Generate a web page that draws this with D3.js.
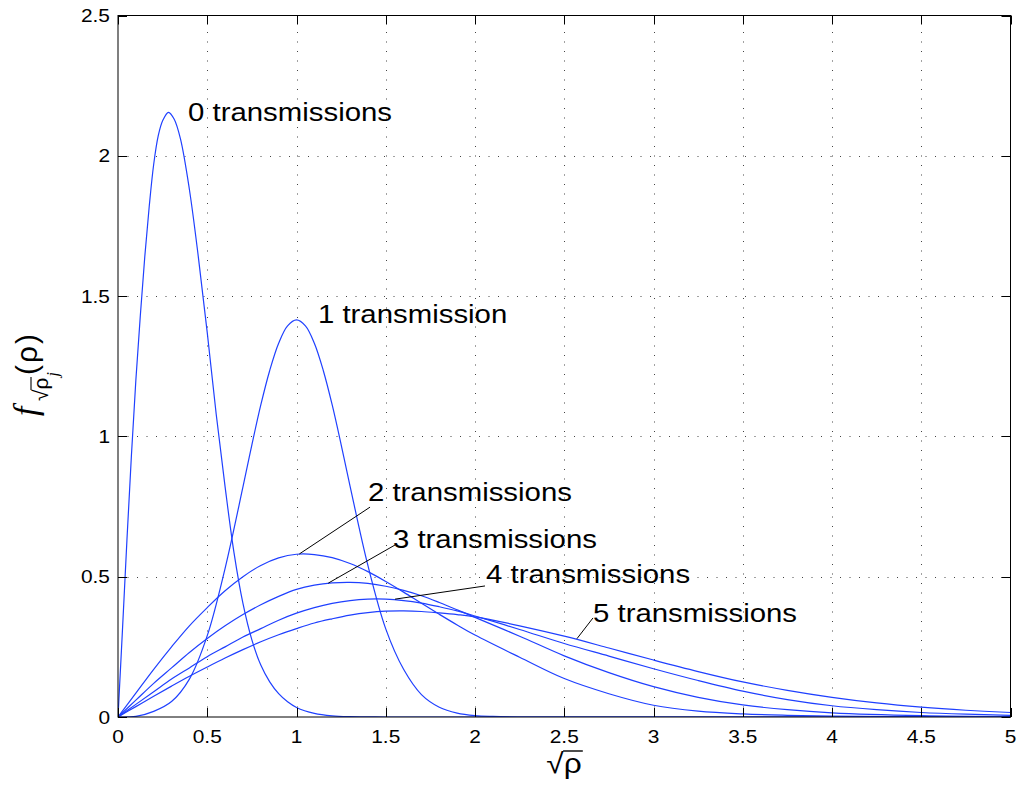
<!DOCTYPE html>
<html>
<head>
<meta charset="utf-8">
<script src="https://cdn.jsdelivr.net/npm/d3@7"></script>
<style>
  body { margin: 0; background: #fff; }
  svg { display: block; }
</style>
</head>
<body>
<svg id="chart" width="1019" height="789"></svg>
<script>
// ---- axis ticks ----
const xTicks = [0, 0.5, 1, 1.5, 2, 2.5, 3, 3.5, 4, 4.5, 5];
const xTickLabels = ["0", "0.5", "1", "1.5", "2", "2.5", "3", "3.5", "4", "4.5", "5"];
const yTicks = [0, 0.5, 1, 1.5, 2, 2.5];
const yTickLabels = ["0", "0.5", "1", "1.5", "2", "2.5"];

// ---- density of sqrt(rho) after j transmissions, [sqrt(rho), f] ----
const pdf0 = [[0,0],[0.025,0.31],[0.05,0.63],[0.075,0.93],[0.1,1.2],[0.125,1.43],[0.15,1.64],[0.175,1.82],[0.2,1.97],[0.225,2.07],[0.25,2.125],[0.283,2.155],[0.315,2.13],[0.35,2.06],[0.4,1.88],[0.45,1.64],[0.5,1.37],[0.55,1.08],[0.6,0.82],[0.65,0.585],[0.7,0.405],[0.75,0.275],[0.8,0.185],[0.85,0.125],[0.9,0.083],[0.95,0.054],[1.0,0.034],[1.1,0.013],[1.2,0.004],[1.3,0.001],[1.5,0],[2.5,0],[5,0]];
const pdf1 = [[0,0],[0.1,0.002],[0.2,0.02],[0.3,0.055],[0.4,0.135],[0.5,0.29],[0.6,0.53],[0.7,0.82],[0.75,0.97],[0.8,1.112],[0.85,1.235],[0.9,1.332],[0.95,1.394],[1.0,1.415],[1.05,1.394],[1.1,1.332],[1.15,1.235],[1.2,1.112],[1.25,0.971],[1.3,0.823],[1.4,0.54],[1.5,0.314],[1.6,0.17],[1.7,0.08],[1.8,0.035],[1.9,0.014],[2.0,0.005],[2.1,0.002],[2.3,0],[3.5,0],[5,0]];
const pdf2 = [[0,0],[0.1,0.085],[0.2,0.17],[0.3,0.25],[0.4,0.325],[0.5,0.39],[0.6,0.45],[0.7,0.50],[0.8,0.54],[0.9,0.567],[1.0,0.58],[1.1,0.579],[1.2,0.568],[1.3,0.547],[1.4,0.518],[1.5,0.483],[1.6,0.445],[1.7,0.405],[1.8,0.366],[1.9,0.328],[2.0,0.292],[2.25,0.213],[2.5,0.137],[2.75,0.083],[3.0,0.042],[3.25,0.021],[3.5,0.011],[3.75,0.006],[4.0,0.003],[4.5,0.001],[5,0]];
const pdf3 = [[0,0],[0.1,0.06],[0.2,0.12],[0.3,0.175],[0.4,0.23],[0.5,0.28],[0.6,0.325],[0.7,0.365],[0.8,0.40],[0.9,0.43],[1.0,0.455],[1.1,0.47],[1.2,0.478],[1.3,0.48],[1.4,0.476],[1.5,0.466],[1.6,0.451],[1.7,0.432],[1.8,0.408],[1.9,0.382],[2.0,0.355],[2.25,0.288],[2.5,0.218],[2.75,0.158],[3.0,0.108],[3.25,0.07],[3.5,0.043],[3.75,0.026],[4.0,0.015],[4.5,0.005],[5,0.0015]];
const pdf4 = [[0,0],[0.1,0.045],[0.2,0.09],[0.3,0.135],[0.4,0.175],[0.5,0.215],[0.6,0.25],[0.7,0.285],[0.8,0.315],[0.9,0.345],[1.0,0.37],[1.1,0.39],[1.2,0.405],[1.3,0.415],[1.4,0.42],[1.5,0.42],[1.6,0.415],[1.7,0.406],[1.8,0.393],[1.9,0.378],[2.0,0.36],[2.25,0.312],[2.5,0.262],[2.75,0.217],[3.0,0.172],[3.25,0.13],[3.5,0.092],[3.75,0.062],[4.0,0.04],[4.25,0.026],[4.5,0.016],[4.75,0.01],[5,0.006]];
const pdf5 = [[0,0],[0.1,0.037],[0.2,0.074],[0.3,0.11],[0.4,0.145],[0.5,0.178],[0.6,0.21],[0.7,0.24],[0.8,0.268],[0.9,0.293],[1.0,0.315],[1.1,0.335],[1.2,0.35],[1.3,0.363],[1.4,0.372],[1.5,0.377],[1.6,0.378],[1.7,0.376],[1.8,0.371],[1.9,0.365],[2.0,0.357],[2.25,0.325],[2.5,0.288],[2.75,0.246],[3.0,0.203],[3.25,0.162],[3.5,0.125],[3.75,0.095],[4.0,0.07],[4.25,0.05],[4.5,0.035],[4.75,0.024],[5,0.016]];
const seriesData = [pdf0, pdf1, pdf2, pdf3, pdf4, pdf5];
const seriesNames = ["0 transmissions", "1 transmission", "2 transmissions", "3 transmissions", "4 transmissions", "5 transmissions"];

// ---- annotation placement (data units): label start, optional leader line ----
const labelAt = [[0.392, 2.124], [1.12, 1.404], [1.40, 0.768], [1.54, 0.602], [2.062, 0.476], [2.661, 0.340]];
const leaderFrom = [null, null, [1.412, 0.748], [1.552, 0.613], [2.056, 0.467], [2.661, 0.353]];
const leaderTo = [null, null, [1.016, 0.581], [1.178, 0.477], [1.552, 0.420], [2.571, 0.279]];

// ---- layout ----
const FONT = "'Liberation Sans', Arial, Helvetica, sans-serif";
const SERIF = "'Liberation Serif', 'Times New Roman', serif";
const SX = 1.13;            // horizontal glyph stretch
const plot = { left: 118, right: 1010.5, top: 15.5, bottom: 717 };
const TICK = 9;
const LINE_COLOR = "#1f40ff";

const svg = d3.select("#chart");
svg.append("rect").attr("width", 1019).attr("height", 789).attr("fill", "#fff");

const x = d3.scaleLinear().domain([0, 5]).range([plot.left, plot.right]);
const y = d3.scaleLinear().domain([0, 2.5]).range([plot.bottom, plot.top]);

function label(parent, px, py, str, size, anchor) {
  const g = parent.append("g").attr("transform", `translate(${px},${py}) scale(${SX},1)`);
  const t = g.append("text")
    .attr("font-family", FONT)
    .attr("font-size", size)
    .attr("text-anchor", anchor || "start")
    .attr("fill", "#000")
    .text(str);
  return { g, t };
}

// grid
const grid = svg.append("g")
  .attr("stroke", "#444").attr("stroke-width", 1).attr("stroke-dasharray", "1,8.5");
grid.selectAll("line.gx").data(xTicks.slice(1, -1)).join("line")
  .attr("x1", d => Math.round(x(d)) + 0.5).attr("x2", d => Math.round(x(d)) + 0.5)
  .attr("y1", plot.bottom).attr("y2", plot.top);
grid.selectAll("line.gy").data(yTicks.slice(1, -1)).join("line")
  .attr("y1", d => Math.round(y(d)) + 0.5).attr("y2", d => Math.round(y(d)) + 0.5)
  .attr("x1", plot.left).attr("x2", plot.right);

// curves
svg.append("clipPath").attr("id", "plotClip").append("rect")
  .attr("x", plot.left).attr("y", plot.top)
  .attr("width", plot.right - plot.left).attr("height", plot.bottom - plot.top);

const line = d3.line().x(d => x(d[0])).y(d => y(d[1])).curve(d3.curveCatmullRom.alpha(0.5));
svg.append("g").attr("clip-path", "url(#plotClip)")
  .selectAll("path").data(seriesData).join("path")
  .attr("d", line)
  .attr("fill", "none")
  .attr("stroke", LINE_COLOR)
  .attr("stroke-width", 1.2);

// box and inward ticks
const axes = svg.append("g").attr("stroke", "#000").attr("stroke-width", 1);
axes.append("rect")
  .attr("x", plot.left).attr("y", plot.top)
  .attr("width", plot.right - plot.left).attr("height", plot.bottom - plot.top)
  .attr("fill", "none");
xTicks.forEach(v => {
  const px = Math.round(x(v)) + 0.5;
  axes.append("line").attr("x1", px).attr("x2", px).attr("y1", plot.bottom).attr("y2", plot.bottom - TICK);
  axes.append("line").attr("x1", px).attr("x2", px).attr("y1", plot.top).attr("y2", plot.top + TICK);
});
yTicks.forEach(v => {
  const py = Math.round(y(v)) + 0.5;
  axes.append("line").attr("y1", py).attr("y2", py).attr("x1", plot.left).attr("x2", plot.left + TICK);
  axes.append("line").attr("y1", py).attr("y2", py).attr("x1", plot.right).attr("x2", plot.right - TICK);
});

// tick labels
const tickG = svg.append("g");
xTicks.forEach((v, i) => label(tickG, x(v), 743, xTickLabels[i], 18.5, "middle"));
yTicks.forEach((v, i) => label(tickG, plot.left - 8, y(v) + 6.6, yTickLabels[i], 18.5, "end"));

// curve annotations
const ann = svg.append("g");
seriesNames.forEach((name, i) => {
  label(ann, x(labelAt[i][0]), y(labelAt[i][1]), name, 26, "start");
  if (leaderFrom[i]) {
    ann.append("line")
      .attr("x1", x(leaderFrom[i][0])).attr("y1", y(leaderFrom[i][1]))
      .attr("x2", x(leaderTo[i][0])).attr("y2", y(leaderTo[i][1]))
      .attr("stroke", "#000").attr("stroke-width", 1);
  }
});

// x-axis title: sqrt(rho)
{
  const { g, t } = label(svg, 564, 773, "", 28, "middle");
  t.append("tspan").text("\u221A");
  t.append("tspan").text("\u03C1");
  const r = t.node().getExtentOfChar(1);
  g.append("line")
    .attr("x1", r.x - 0.5).attr("x2", r.x + r.width + 1)
    .attr("y1", -22).attr("y2", -22)
    .attr("stroke", "#000").attr("stroke-width", 1.4);
}

// y-axis title: f_{sqrt(rho_j)}(rho), rotated
{
  const g = svg.append("g").attr("transform", "translate(37,416) rotate(-90)");
  g.append("text").attr("x", 0).attr("y", 0)
    .attr("font-family", SERIF)
    .attr("font-style", "italic").attr("font-size", 34).text("f");
  const sub = g.append("text").attr("x", 15).attr("y", 11)
    .attr("font-family", FONT).attr("font-size", 21);
  sub.append("tspan").text("\u221A");
  sub.append("tspan").text("\u03C1");
  const r = sub.node().getExtentOfChar(1);
  g.append("line")
    .attr("x1", r.x - 0.5).attr("x2", r.x + r.width + 0.5)
    .attr("y1", 11 - 17).attr("y2", 11 - 17)
    .attr("stroke", "#000").attr("stroke-width", 1.1);
  g.append("text").attr("x", r.x + r.width + 1).attr("y", 21)
    .attr("font-family", SERIF)
    .attr("font-style", "italic").attr("font-size", 16).text("j");
  g.append("text").attr("x", 41).attr("y", 0)
    .attr("font-family", FONT).attr("font-size", 30)
    .attr("letter-spacing", 2).text("(\u03C1)");
}
</script>
</body>
</html>
